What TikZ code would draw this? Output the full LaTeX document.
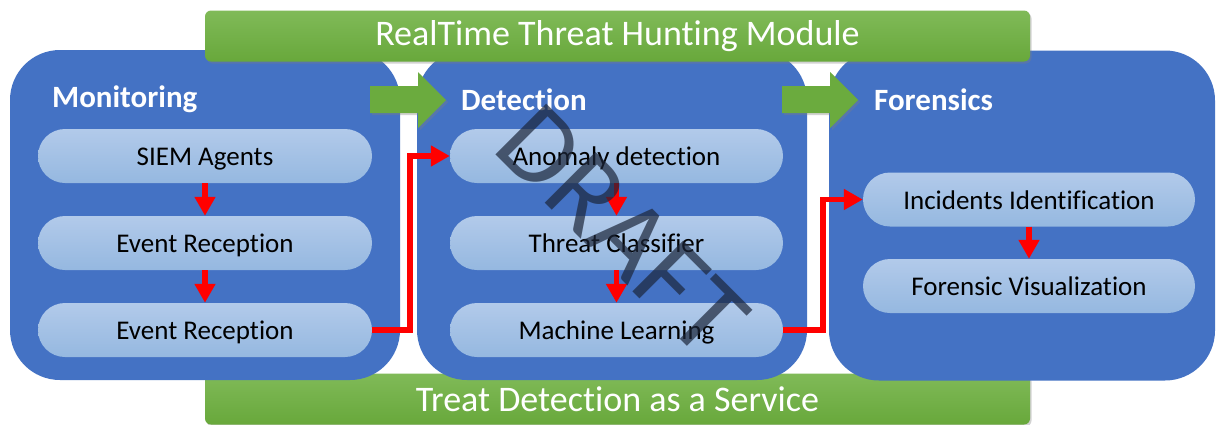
\documentclass[tikz,border=0pt]{standalone}
\usepackage{fontspec}
\setmainfont{Carlito}[Ligatures=NoCommon,RawFeature={-liga;-clig}]
\usetikzlibrary{arrows.meta,shadows}
\definecolor{panelblue}{HTML}{4472C4}
\definecolor{pilltop}{HTML}{B2CAEA}
\definecolor{pillbot}{HTML}{95B8E0}
\definecolor{greentop}{HTML}{80BA58}
\definecolor{greenbot}{HTML}{68A83B}
\definecolor{greenarrow}{HTML}{6BAB3E}
\definecolor{wmark}{RGB}{28,38,58}
\tikzset{
  panel/.style={fill=panelblue, draw=none, rounded corners=50pt, minimum width=390pt, minimum height=330pt, inner sep=0pt},
  pill/.style={top color=pilltop, bottom color=pillbot, draw=none, rounded corners=27pt, minimum width=334pt, minimum height=54pt, inner sep=0pt, text height=24pt, text depth=5pt, font=\fontsize{27}{32}\selectfont, text=black},
  ptitle/.style={anchor=west, text=white, font=\fontsize{31}{36}\selectfont\bfseries, inner sep=0pt},
  greenbar/.style={top color=greentop, bottom color=greenbot, draw=none, rounded corners=6pt, minimum width=825pt, minimum height=51pt, inner sep=0pt, text=white, font=\fontsize{36}{42}\selectfont, drop shadow={opacity=0.35, shadow xshift=1.5pt, shadow yshift=-2pt}},
  blockarrow/.style={fill=greenarrow, draw=none, drop shadow={opacity=0.35, shadow xshift=2pt, shadow yshift=-2pt}},
  redline/.style={draw=red, line width=5.5pt, -{Triangle[width=20pt,length=19pt]}},
  watermark/.style={text=wmark, opacity=0.7, font=\fontsize{112}{120}\selectfont, inner sep=0pt}
}
\begin{document}
\begin{tikzpicture}[x=1pt,y=-1pt]
\useasboundingbox (0,0) rectangle (1216,424);
\fill[white] (0,0) rectangle (1216,424);
% bottom bar
\node[greenbar] (botbar) at (617.5,399) {Treat Detection as a Service};
% panels
\node[panel] (mon) at (205,215) {};
\node[panel] (det) at (612,215) {};
\node[panel, minimum width=386pt] (for) at (1022,215.5) {};
% top bar
\node[greenbar] (topbar) at (617.5,36) {RealTime Threat Hunting Module};
% green block arrows
\path[blockarrow] (370,86) -- (418,86) -- (418,72) -- (446,100) -- (418,128) -- (418,113) -- (370,113) -- cycle;
\path[blockarrow] (782,86) -- (830,86) -- (830,72) -- (858,100) -- (830,128) -- (830,113) -- (782,113) -- cycle;
% titles
\node[ptitle] (montitle) at (52,99.5) {Monitoring};
\node[ptitle] (dettitle) at (461,99.5) {Detection};
\node[ptitle] (fortitle) at (874,99.5) {Forensics};
% pills
\node[pill] (siem) at (205,156) {SIEM Agents};
\node[pill] (er1) at (205,243) {Event Reception};
\node[pill] (er2) at (205,330) {Event Reception};
\node[pill, minimum width=333pt] (anom) at (616.5,156) {Anomaly detection};
\node[pill, minimum width=333pt] (thr) at (616.5,243) {Threat Classifier};
\node[pill, minimum width=333pt] (ml) at (616.5,330) {Machine Learning};
\node[pill, minimum width=332pt] (inc) at (1029,199.5) {Incidents Identification};
\node[pill, minimum width=332pt] (fvis) at (1029,286) {Forensic Visualization};
% red arrows
\draw[redline] (siem.south) -- (er1.north);
\draw[redline] (er1.south) -- (er2.north);
\draw[redline] (anom.south) -- (thr.north);
\draw[redline] (thr.south) -- (ml.north);
\draw[redline] (inc.south) -- (fvis.north);
\draw[redline] (er2.east) -- ++(38,0) |- (anom.west);
\draw[redline] (ml.east) -- ++(40,0) |- (inc.west);
% watermark
\node[watermark, rotate=-45] (draft) at (622,230) {DRAFT};
\end{tikzpicture}
\end{document}
